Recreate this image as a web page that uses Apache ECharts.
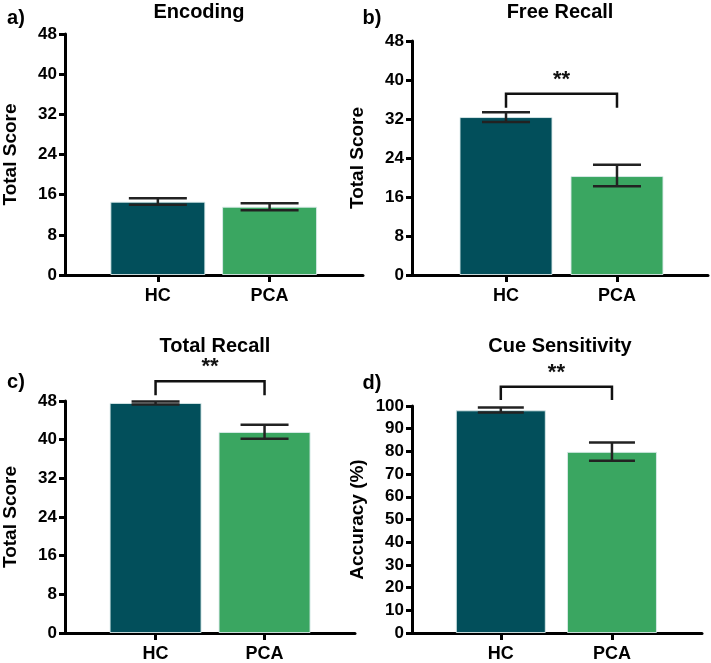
<!DOCTYPE html>
<html>
<head>
<meta charset="utf-8">
<script src="https://cdn.jsdelivr.net/npm/echarts@6/dist/echarts.min.js"></script>
<style>
  html, body { margin: 0; padding: 0; background: #fff; }
  #chart { width: 711px; height: 663px; }
</style>
</head>
<body>
<div id="chart"></div>
<script>
// ---------------- DATA ----------------
const categories = ['HC', 'PCA'];
const panelTitles = ['Encoding', 'Free Recall', 'Total Recall', 'Cue Sensitivity'];
const panelLetters = ['a)', 'b)', 'c)', 'd)'];
const yAxisNames = ['Total Score', 'Total Score', 'Total Score', 'Accuracy (%)'];
const yMaxValues = [48, 48, 48, 100];
const yIntervals = [8, 8, 8, 10];

const encodingMean = [14.6, 13.6];
const encodingLow  = [14.0, 12.9];
const encodingHigh = [15.3, 14.3];

const freeRecallMean = [32.4, 20.3];
const freeRecallLow  = [31.4, 18.2];
const freeRecallHigh = [33.4, 22.6];

const totalRecallMean = [47.6, 41.6];
const totalRecallLow  = [47.3, 40.2];
const totalRecallHigh = [47.9, 43.1];

const cueSensMean = [98.1, 79.8];
const cueSensLow  = [97.1, 75.9];
const cueSensHigh = [99.3, 83.9];

const significance = ['', '**', '**', '**'];

// ---------------- LAYOUT / STYLE ----------------
const FONT = '"Liberation Sans", Arial, Helvetica, sans-serif';
const COLORS = ['#024F5B', '#3AA661'];
const panels = [
  { mean: encodingMean, low: encodingLow, high: encodingHigh,
    grid: { left: 58, top: 34, width: 305, height: 241 }, xMin: 0.169, xMax: 2.836,
    barWidth: 95, capHalf: 29, bracketTop: null, bracketLeg: null,
    title: [199, 12], letter: [16, 18] },
  { mean: freeRecallMean, low: freeRecallLow, high: freeRecallHigh,
    grid: { left: 412, top: 41, width: 296, height: 234 }, xMin: 0.153, xMax: 2.82,
    barWidth: 93, capHalf: 24, bracketTop: 37.2, bracketLeg: 34.3,
    title: [560, 12], letter: [372, 18] },
  { mean: totalRecallMean, low: totalRecallLow, high: totalRecallHigh,
    grid: { left: 58, top: 401, width: 297, height: 233 }, xMin: 0.169, xMax: 2.83,
    barWidth: 92, capHalf: 24, bracketTop: 52.1, bracketLeg: 49.2,
    title: [215, 346], letter: [16, 382] },
  { mean: cueSensMean, low: cueSensLow, high: cueSensHigh,
    grid: { left: 412, top: 406, width: 290, height: 228 }, xMin: 0.201, xMax: 2.81,
    barWidth: 90, capHalf: 23, bracketTop: 108.5, bracketLeg: 102.6,
    title: [560, 346], letter: [372, 383] }
];

const grids = [], xAxes = [], yAxes = [], series = [], graphics = [];

panels.forEach((p, i) => {
  grids.push(Object.assign({ containLabel: false }, p.grid));
  xAxes.push({
    type: 'value', gridIndex: i, min: p.xMin, max: p.xMax,
    splitLine: { show: false },
    axisLine: { show: true, onZero: false, lineStyle: { color: '#000', width: 3 } },
    axisTick: { show: true, customValues: [1, 2], length: 7, lineStyle: { color: '#000', width: 3 } },
    axisLabel: {
      show: true, customValues: [1, 2], margin: 12,
      formatter: v => categories[Math.round(v) - 1] || '',
      color: '#000', fontWeight: 'bold', fontSize: 18, fontFamily: FONT
    }
  });
  yAxes.push({
    type: 'value', gridIndex: i, min: 0, max: yMaxValues[i], interval: yIntervals[i],
    name: yAxisNames[i], nameLocation: 'middle', nameGap: 45,
    nameTextStyle: { color: '#000', fontWeight: 'bold', fontSize: 19, fontFamily: FONT },
    splitLine: { show: false },
    axisLine: { show: true, lineStyle: { color: '#000', width: 3 } },
    axisTick: { show: true, length: 6, lineStyle: { color: '#000', width: 3 } },
    axisLabel: { margin: 8, color: '#000', fontWeight: 'bold', fontSize: 17, fontFamily: FONT }
  });
  series.push({
    type: 'bar', xAxisIndex: i, yAxisIndex: i, barWidth: p.barWidth,
    itemStyle: { borderColor: 'rgba(220,235,235,0.9)', borderWidth: 1 },
    data: p.mean.map((m, k) => ({ value: [k + 1, m], itemStyle: { color: COLORS[k] } })),
    z: 2
  });
  series.push({
    type: 'custom', xAxisIndex: i, yAxisIndex: i, clip: false, z: 5,
    data: p.mean.map((m, k) => [k + 1, p.low[k], p.high[k]]),
    renderItem: (params, api) => {
      const x = api.value(0);
      const a = api.coord([x, api.value(1)]);
      const b = api.coord([x, api.value(2)]);
      const st = { stroke: '#222', lineWidth: 2.5 };
      const hw = p.capHalf;
      return { type: 'group', children: [
        { type: 'line', shape: { x1: a[0], y1: a[1], x2: b[0], y2: b[1] }, style: st },
        { type: 'line', shape: { x1: a[0] - hw, y1: a[1], x2: a[0] + hw, y2: a[1] }, style: st },
        { type: 'line', shape: { x1: b[0] - hw, y1: b[1], x2: b[0] + hw, y2: b[1] }, style: st }
      ] };
    }
  });
  if (significance[i]) {
    series.push({
      type: 'custom', xAxisIndex: i, yAxisIndex: i, clip: false, z: 6,
      data: [[1, 2, p.bracketTop, p.bracketLeg]],
      renderItem: (params, api) => {
        const p1 = api.coord([api.value(0), api.value(3)]);
        const p2 = api.coord([api.value(0), api.value(2)]);
        const p3 = api.coord([api.value(1), api.value(2)]);
        const p4 = api.coord([api.value(1), api.value(3)]);
        return { type: 'group', children: [
          { type: 'polyline', shape: { points: [p1, p2, p3, p4] },
            style: { stroke: '#111', lineWidth: 2.5, fill: null } },
          { type: 'text', style: { text: significance[i], x: (p2[0] + p3[0]) / 2, y: p2[1] - 3,
            textAlign: 'center', textVerticalAlign: 'bottom',
            font: 'bold 22px ' + FONT, fill: '#111' } }
        ] };
      }
    });
  }
  graphics.push({ type: 'text', style: { text: panelTitles[i], x: p.title[0], y: p.title[1],
    textAlign: 'center', textVerticalAlign: 'middle', font: 'bold 20px ' + FONT, fill: '#000' } });
  graphics.push({ type: 'text', style: { text: panelLetters[i], x: p.letter[0], y: p.letter[1],
    textAlign: 'center', textVerticalAlign: 'middle', font: 'bold 20px ' + FONT, fill: '#000' } });
});

const chart = echarts.init(document.getElementById('chart'), null, { renderer: 'canvas' });
chart.setOption({
  animation: false,
  backgroundColor: '#fff',
  grid: grids, xAxis: xAxes, yAxis: yAxes, series: series, graphic: graphics
});
</script>
</body>
</html>
